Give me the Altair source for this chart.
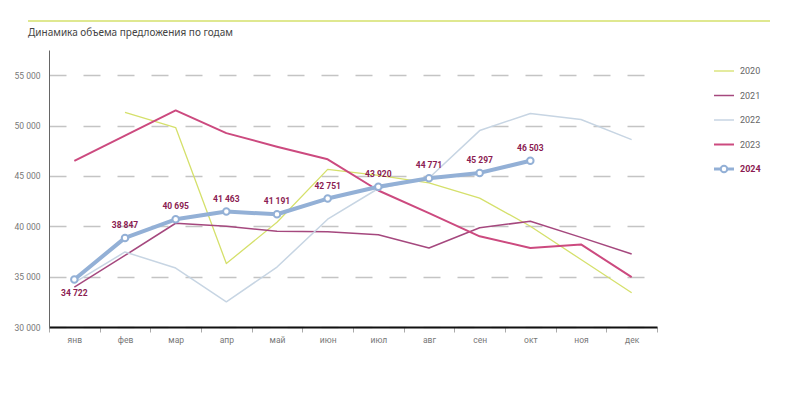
import altair as alt
import pandas as pd

months = ["янв", "фев", "мар", "апр", "май", "июн", "июл", "авг", "сен", "окт", "ноя", "дек"]
years = ["2020", "2021", "2022", "2023", "2024"]
v2020 = [None, 51300, 49800, 36300, 40400, 45650, 45050, 44300, 42800, 40000, 36700, 33400]
v2021 = [33950, 37100, 40300, 40000, 39500, 39450, 39150, 37850, 39850, 40500, 38900, 37250]
v2022 = [34400, 37450, 35850, 32500, 35950, 40700, 43750, 44800, 49500, 51200, 50600, 48600]
v2023 = [46500, 49000, 51500, 49250, 47900, 46650, 43550, 41300, 39000, 37850, 38200, 34950]
v2024 = [34722, 38847, 40695, 41463, 41191, 42751, 43920, 44771, 45297, 46503, None, None]
y_ticks = [30000, 35000, 40000, 45000, 50000, 55000]
title_text = "Динамика объема предложения по годам"

colors = ["#d5e06b", "#a5487e", "#c7d5e3", "#cc4a7f", "#93b0d6"]
widths = [1.3, 1.5, 1.5, 2.0, 4.0]
label_color = "#8b1c52"
FONT = "Roboto, sans-serif"

rows = []
for yr, vals in zip(years, [v2020, v2021, v2022, v2023, v2024]):
    for i, (m, v) in enumerate(zip(months, vals)):
        if v is not None:
            rows.append({"year": yr, "month": m, "mi": i, "value": v,
                         "label": f"{v:,}".replace(",", " ")})
df = pd.DataFrame(rows)

x_enc = alt.X("month:N", sort=months,
              scale=alt.Scale(type="band", paddingInner=0, paddingOuter=0),
              bandPosition=0.5,
              axis=alt.Axis(title=None, tickBand="extent", tickSize=5, tickColor="#aaa",
                            domainColor="#111", domainWidth=1.8, labelAngle=0,
                            labelColor="#777", labelFontSize=8.5, labelFont=FONT,
                            labelPadding=3, grid=False))
y_enc = alt.Y("value:Q",
              scale=alt.Scale(domain=[30000, 57500], nice=False, zero=False),
              axis=alt.Axis(title=None, orient="left", values=y_ticks, ticks=False,
                            labelExpr="replace(format(datum.value, ','), ',', ' ')",
                            labelColor="#777", labelFontSize=8.5, labelFont=FONT,
                            labelPadding=9, domainColor="#666", domainWidth=1,
                            grid=True, gridColor="#c4c4c4", gridWidth=1.4,
                            gridDash=[17, 17]))

color_scale = alt.Scale(domain=years, range=colors)

base = alt.Chart(df)
line_layers = []
for yr, w in zip(years, widths):
    line_layers.append(
        base.transform_filter(f"datum.year == '{yr}'").mark_line(strokeWidth=w, strokeJoin="round").encode(
            x=x_enc, y=y_enc,
            color=alt.Color("year:N", scale=color_scale, legend=None),
            order="mi:Q",
        )
    )
d24 = base.transform_filter("datum.year == '2024'")
points = d24.mark_point(shape="circle", filled=True, fill="white", stroke="#93b0d6",
                        strokeWidth=2, size=42, opacity=1).encode(x=x_enc, y=y_enc)
labels_up = d24.transform_filter("datum.mi > 0").mark_text(
    dy=-13, fontSize=8.5, fontWeight="bold", font=FONT, color=label_color
).encode(x=x_enc, y=y_enc, text="label:N")
labels_down = d24.transform_filter("datum.mi == 0").mark_text(
    dy=14, fontSize=8.5, fontWeight="bold", font=FONT, color=label_color
).encode(x=x_enc, y=y_enc, text="label:N")

# legend (rows spread by a yOffset scale, independent of the value axis)
leg = alt.Chart(pd.DataFrame({"year": years}))
ly = alt.YOffset("year:N", sort=years, scale=alt.Scale(type="point", range=[0, 98], padding=0))
leg_layers = []
for yr, w in zip(years, widths):
    leg_layers.append(
        leg.transform_filter(f"datum.year == '{yr}'").mark_rule(strokeWidth=min(w, 3)).encode(
            x=alt.value(665), x2=alt.value(685), y=alt.value(21), yOffset=ly,
            color=alt.Color("year:N", scale=color_scale, legend=None),
        )
    )
leg_pt = leg.transform_filter("datum.year == '2024'").mark_point(
    shape="circle", filled=True, fill="white", stroke="#93b0d6", strokeWidth=2, size=42, opacity=1
).encode(x=alt.value(675), y=alt.value(21), yOffset=ly)
leg_txt = leg.transform_filter("datum.year != '2024'").mark_text(
    align="left", fontSize=9, font=FONT, color="#666"
).encode(x=alt.value(691), y=alt.value(21), yOffset=ly, text="year:N")
leg_txt24 = leg.transform_filter("datum.year == '2024'").mark_text(
    align="left", fontSize=9, font=FONT, color=label_color, fontWeight="bold"
).encode(x=alt.value(691), y=alt.value(21), yOffset=ly, text="year:N")

deco = alt.Chart(pd.DataFrame({"t": [title_text]}))
top_rule = deco.mark_rule(color="#d5e06b", strokeWidth=1.5).encode(
    x=alt.value(-21), x2=alt.value(721), y=alt.value(-29)
)
title_mark = deco.mark_text(align="left", baseline="middle", fontSize=10, font="Noto Sans",
                            color="#444").encode(x=alt.value(-21), y=alt.value(-17), text="t:N")

chart = alt.layer(*line_layers, points, labels_up, labels_down,
                  *leg_layers, leg_pt, leg_txt, leg_txt24, top_rule, title_mark).properties(
    width=608, height=277,
    background="white",
    autosize=alt.AutoSizeParams(type="none"),
    padding={"left": 41, "top": 42, "right": 135, "bottom": 68},
).configure_view(stroke=None)

chart.save("out.html", embed_options={"renderer": "svg", "actions": False})
